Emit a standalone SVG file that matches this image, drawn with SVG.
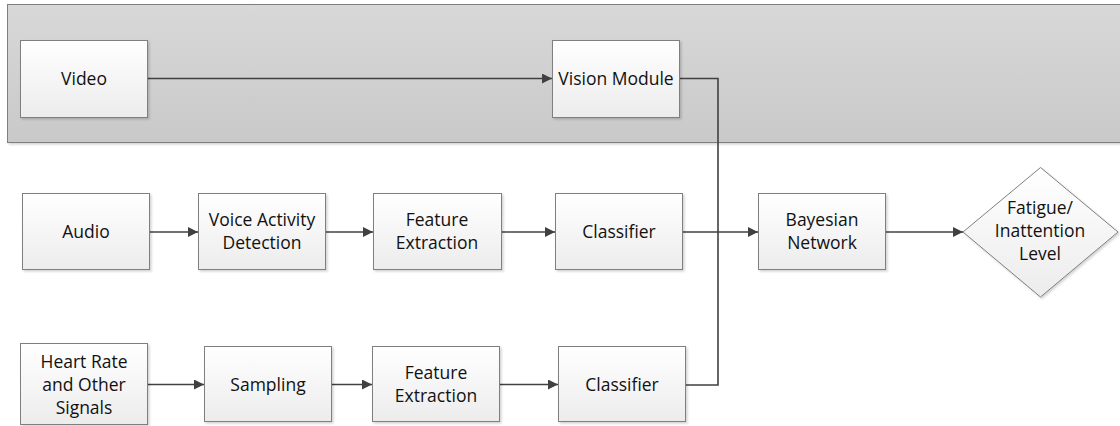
<svg xmlns="http://www.w3.org/2000/svg" width="1120" height="426" viewBox="0 0 1120 426">
  <style>
    .box { fill: url(#boxFill); stroke: #7f7f7f; stroke-width: 1; filter: url(#shadow); }
    .lbl { font-family: "Open Sans", "Liberation Sans", sans-serif; font-size: 17.5px; fill: #111; text-anchor: middle; }
    .conn { fill: none; stroke: #404040; stroke-width: 1.6; }
  </style>
  <defs>
    <linearGradient id="boxFill" x1="0" y1="0" x2="0" y2="1">
      <stop offset="0" stop-color="#ffffff"/>
      <stop offset="1" stop-color="#ececec"/>
    </linearGradient>
    <linearGradient id="panelFill" x1="0" y1="0" x2="0" y2="1">
      <stop offset="0" stop-color="#d8d8d8"/>
      <stop offset="1" stop-color="#c9c9c9"/>
    </linearGradient>
    <filter id="shadow" x="-10%" y="-10%" width="130%" height="130%">
      <feDropShadow dx="1.5" dy="1.5" stdDeviation="1" flood-color="#000" flood-opacity="0.18"/>
    </filter>
    <marker id="arrow" viewBox="0 0 10 10" refX="10" refY="5" markerWidth="10" markerHeight="10" markerUnits="userSpaceOnUse" orient="auto">
      <path d="M0,0 L10,5 L0,10 z" fill="#404040"/>
    </marker>
  </defs>

  <!-- video stream panel -->
  <rect id="panel" x="7.5" y="4.5" width="1120" height="138" fill="url(#panelFill)" stroke="#7f7f7f" stroke-width="1" filter="url(#shadow)"/>

  <!-- connectors -->
  <g id="connectors">
    <path class="conn" d="M147,78.5 H552" marker-end="url(#arrow)"/>
    <path class="conn" d="M680,78.5 H718 V385 H685"/>
    <path class="conn" d="M150,232 H198" marker-end="url(#arrow)"/>
    <path class="conn" d="M325,232 H373" marker-end="url(#arrow)"/>
    <path class="conn" d="M502,232 H555" marker-end="url(#arrow)"/>
    <path class="conn" d="M683,232 H758" marker-end="url(#arrow)"/>
    <path class="conn" d="M886,232 H963" marker-end="url(#arrow)"/>
    <path class="conn" d="M148,384.5 H204" marker-end="url(#arrow)"/>
    <path class="conn" d="M331,384.5 H372" marker-end="url(#arrow)"/>
    <path class="conn" d="M499,384.5 H558" marker-end="url(#arrow)"/>
  </g>

  <g id="video">
    <rect class="box" x="20.5" y="40.5" width="127" height="77"/>
    <text class="lbl" x="84" y="85">Video</text>
  </g>
  <g id="vision">
    <rect class="box" x="552.5" y="40.5" width="127" height="77"/>
    <text class="lbl" x="616" y="85">Vision Module</text>
  </g>

  <g id="audio">
    <rect class="box" x="22.5" y="193.5" width="127" height="76"/>
    <text class="lbl" x="86" y="238">Audio</text>
  </g>
  <g id="vad">
    <rect class="box" x="198.5" y="193.5" width="127" height="76"/>
    <text class="lbl" x="262" y="226">Voice Activity</text>
    <text class="lbl" x="262" y="249">Detection</text>
  </g>
  <g id="feat1">
    <rect class="box" x="373.5" y="193.5" width="128" height="76"/>
    <text class="lbl" x="437" y="226">Feature</text>
    <text class="lbl" x="437" y="249">Extraction</text>
  </g>
  <g id="class1">
    <rect class="box" x="555.5" y="193.5" width="127" height="76"/>
    <text class="lbl" x="619" y="238">Classifier</text>
  </g>
  <g id="bayes">
    <rect class="box" x="758.5" y="193.5" width="127" height="76"/>
    <text class="lbl" x="822" y="226">Bayesian</text>
    <text class="lbl" x="822" y="249">Network</text>
  </g>
  <g id="fatigue">
    <polygon class="box" points="1040.5,167.5 1118,232 1040.5,297 963,232"/>
    <text class="lbl" x="1040" y="214">Fatigue/</text>
    <text class="lbl" x="1040" y="237">Inattention</text>
    <text class="lbl" x="1040" y="260">Level</text>
  </g>

  <g id="heart">
    <rect class="box" x="20.5" y="343.5" width="127" height="81"/>
    <text class="lbl" x="84" y="368">Heart Rate</text>
    <text class="lbl" x="84" y="391">and Other</text>
    <text class="lbl" x="84" y="414">Signals</text>
  </g>
  <g id="sampling">
    <rect class="box" x="204.5" y="346.5" width="127" height="75"/>
    <text class="lbl" x="268" y="391">Sampling</text>
  </g>
  <g id="feat2">
    <rect class="box" x="372.5" y="346.5" width="127" height="75"/>
    <text class="lbl" x="436" y="379">Feature</text>
    <text class="lbl" x="436" y="402">Extraction</text>
  </g>
  <g id="class2">
    <rect class="box" x="558.5" y="346.5" width="127" height="75"/>
    <text class="lbl" x="622" y="391">Classifier</text>
  </g>
</svg>
